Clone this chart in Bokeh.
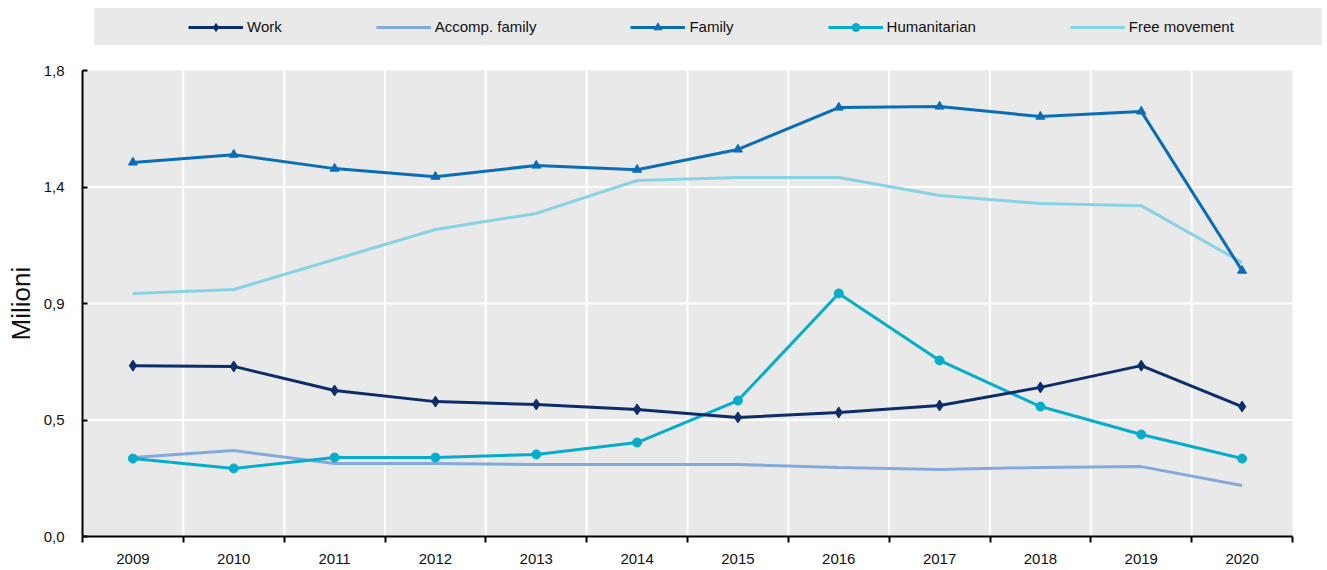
from bokeh.plotting import figure
from bokeh.models import Range1d, FixedTicker, Legend, LegendItem, Title
from bokeh.embed import file_html
from bokeh.resources import INLINE

# ---- data (millions) ----
years = [2009, 2010, 2011, 2012, 2013, 2014, 2015, 2016, 2017, 2018, 2019, 2020]
work = [0.660, 0.657, 0.564, 0.521, 0.510, 0.491, 0.460, 0.479, 0.506, 0.576, 0.660, 0.502]
accomp_family = [0.305, 0.332, 0.282, 0.282, 0.278, 0.278, 0.278, 0.267, 0.259, 0.267, 0.270, 0.197]
family = [1.445, 1.475, 1.421, 1.390, 1.433, 1.417, 1.495, 1.657, 1.661, 1.622, 1.642, 1.027]
humanitarian = [0.301, 0.263, 0.305, 0.305, 0.317, 0.363, 0.525, 0.939, 0.680, 0.502, 0.394, 0.301]
free_movement = [0.939, 0.954, 1.070, 1.186, 1.248, 1.375, 1.387, 1.387, 1.317, 1.286, 1.278, 1.058]

series_names = ["Work", "Accomp. family", "Family", "Humanitarian", "Free movement"]
y_ticks = [0.0, 0.45, 0.9, 1.35, 1.8]
y_tick_labels = ["0,0", "0,5", "0,9", "1,4", "1,8"]
y_axis_title = "Milioni"

# ---- styles / layout ----
FONT = "Liberation Sans"
TXT = "#111111"
BG = "#E9E9E9"
styles = {
    "Work": dict(color="#0B2D69", marker="diamond", size=11),
    "Accomp. family": dict(color="#84A9DB", marker=None, size=0),
    "Family": dict(color="#0A6DB6", marker="triangle", size=9),
    "Humanitarian": dict(color="#05ADCB", marker="circle", size=9),
    "Free movement": dict(color="#87D2E4", marker=None, size=0),
}
values = dict(zip(series_names, [work, accomp_family, family, humanitarian, free_movement]))

# chart area spans 1210 x 466 px; the frame also holds the legend strip above it
X0, X1 = years[0] - 0.5, years[-1] + 0.5
Y0, Y1 = y_ticks[0], y_ticks[-1]
x_extra = (X1 - X0) * 30 / 1210      # room to the right for the legend strip
y_extra = (Y1 - Y0) * 62 / 466       # room on top for the legend strip

p = figure(width=1325, height=568, output_backend="svg", toolbar_location=None,
           x_range=Range1d(X0, X1 + x_extra), y_range=Range1d(Y0, Y1 + y_extra),
           min_border=0, min_border_left=82, min_border_right=3, min_border_top=8, min_border_bottom=32)
p.background_fill_color = "white"
p.border_fill_color = "white"
p.outline_line_color = None
p.grid.visible = False

# chart background and grid lines
p.quad(left=[X0], right=[X1], bottom=[Y0], top=[Y1], fill_color=BG, line_color=None)
vx = [y + 0.5 for y in years[:-1]]
p.segment(x0=vx, x1=vx, y0=[Y0] * len(vx), y1=[Y1] * len(vx), line_color="white", line_width=2)
hy = y_ticks[1:-1]
p.segment(x0=[X0] * len(hy), x1=[X1] * len(hy), y0=hy, y1=hy, line_color="white", line_width=2)

# ---- series ----
draw_order = ["Free movement", "Accomp. family", "Family", "Humanitarian", "Work"]
rends = {}
for name in draw_order:
    st = styles[name]
    rs = [p.line(years, values[name], line_color=st["color"], line_width=3)]
    if st["marker"]:
        rs.append(p.scatter(years, values[name], marker=st["marker"], size=st["size"], color=st["color"]))
    rends[name] = rs

# ---- axes ----
xa = p.xaxis[0]
xa.bounds = (X0, X1)
xa.ticker = FixedTicker(ticks=years, minor_ticks=[y - 0.5 for y in years] + [X1])
xa.major_label_overrides = {y: str(y) for y in years}
xa.major_tick_line_color = None
xa.major_tick_in = 0
xa.major_tick_out = 0
xa.minor_tick_in = 0
xa.minor_tick_out = 6
xa.minor_tick_line_color = "black"
xa.minor_tick_line_width = 2
xa.axis_line_color = "black"
xa.axis_line_width = 2
xa.major_label_standoff = 11
xa.major_label_text_font = FONT
xa.major_label_text_font_size = "15px"
xa.major_label_text_color = TXT

ya = p.yaxis[0]
ya.bounds = (Y0, Y1)
ya.ticker = FixedTicker(ticks=y_ticks)
ya.major_label_overrides = dict(zip(y_ticks, y_tick_labels))
ya.major_tick_in = 5
ya.major_tick_out = 0
ya.major_tick_line_color = "black"
ya.major_tick_line_width = 2
ya.minor_tick_line_color = None
ya.axis_line_color = "black"
ya.axis_line_width = 2
ya.major_label_standoff = 18
ya.major_label_text_font = FONT
ya.major_label_text_font_size = "15px"
ya.major_label_text_color = TXT

# y-axis title, centred on the chart area (not on the whole frame)
ytitle = Title(text=y_axis_title, align="left", offset=196, vertical_align="top",
               standoff=6, text_font=FONT, text_font_size="26px", text_font_style="normal",
               text_color=TXT)
p.add_layout(ytitle, "left")

# ---- legend: grey strip + items (inside the frame, above the chart area) ----
dummy = p.line(x=[], y=[], line_alpha=0)
band = Legend(items=[LegendItem(label=" ", renderers=[dummy])], location=(12, 491),
              orientation="horizontal", padding=0, margin=0, spacing=0,
              glyph_width=1228, glyph_height=37, label_height=37, label_width=0,
              label_standoff=0, label_text_font_size="1px",
              background_fill_color=BG, background_fill_alpha=1, border_line_color=None)
p.add_layout(band, "center")

items = [LegendItem(label=name, renderers=rends[name]) for name in series_names]
leg = Legend(items=items, location=(106, 499.5), orientation="horizontal",
             padding=0, margin=0, spacing=94, glyph_width=55, glyph_height=20, label_height=20,
             label_standoff=4, label_text_font=FONT, label_text_font_size="15px",
             label_text_color=TXT,
             background_fill_alpha=0, border_line_color=None)
p.add_layout(leg, "center")

open("out.html", "w").write(file_html(p, INLINE))
